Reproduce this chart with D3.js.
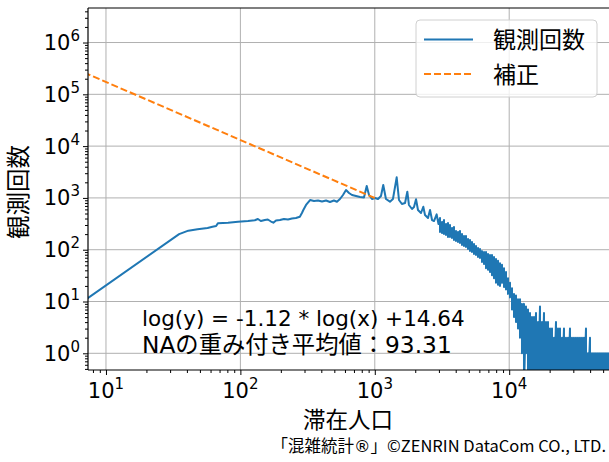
<!DOCTYPE html>
<html>
<head>
<meta charset="utf-8">
<script src="https://cdn.jsdelivr.net/npm/d3@7"></script>
<style>
  body { margin: 0; background: #fff; }
  text { fill: #000; }
</style>
</head>
<body>
<svg id="chart" width="609" height="462"></svg>
<script>
// observed counts, smooth part (population -> count)
const headPop = [5, 35, 41, 48, 57, 62, 66, 68, 81, 96, 114, 128, 135, 142, 152, 160, 169, 176, 184, 197,
  211, 226, 242, 259, 277, 287, 294, 308, 330, 353, 378, 405, 434, 464, 497, 523, 551, 580, 611, 643,
  677, 725, 776, 831, 871, 906, 953, 1003, 1057, 1112, 1156, 1211, 1297, 1365, 1455, 1514, 1592, 1679, 1746, 1795,
  1892, 1958, 2027, 2096, 2207, 2296, 2364, 2489, 2576, 2667, 2757, 2886, 2977];
const headCount = [5.8, 200, 233, 248, 262, 278, 287, 323, 332, 347, 358, 370, 392, 358, 374, 383, 350, 332, 366, 374,
  392, 383, 400, 409, 433, 511, 584, 730, 911, 871, 891, 853, 891, 834, 891, 845, 953, 1138, 1422, 1244,
  1138, 1089, 1041, 1018, 1698, 1138, 953, 995, 953, 1089, 1775, 953, 845, 953, 2500, 911, 762, 797, 1318, 730,
  611, 667, 940, 584, 511, 676, 468, 409, 584, 374, 358, 482, 313];

// noisy tail: at each population the count swings between a high and a low value
const tailPop = [3056, 3162, 3272, 3386, 3504, 3626, 3752, 3883, 4018, 4159, 4304, 4454, 4609, 4770, 4937, 5108, 5286,
  5471, 5662, 5860, 6064, 6275, 6494, 6721, 6956, 7197, 7448, 7708, 7977, 8256, 8542, 8840, 9149, 9468, 9797,
  10139, 10491, 10857, 11236, 11627, 12033, 12452, 12886, 13335, 13801, 14283, 14779, 15295, 15829, 16381,
  16953, 17538, 18151, 18785, 19441, 20120, 20822, 21544, 22295, 23073, 23878, 24712, 25565, 26457, 27380,
  28336, 29325, 30343, 31403, 32500, 33634, 34808, 36017, 37275, 38576, 39922, 41316, 42756, 44230, 45777,
  47375, 49028, 50739, 52505, 54339];
const tailHigh = [409, 343, 374, 313, 327, 300, 262, 274, 230, 220,
  230, 201, 184, 184, 161, 154, 141, 129, 118, 108,
  103, 94, 90, 90, 83, 79, 79, 72, 66, 61,
  55, 51, 44, 37, 28, 23, 18, 14, 13, 11,
  11, 9, 9, 8, 7, 6, 5, 5, 6, 4,
  8, 4, 6, 4, 4, 3, 3, 2, 4, 3,
  3, 2, 3, 2, 2, 3, 2, 2, 2, 2,
  2, 2, 2, 3, 1, 2, 1, 1, 1, 1,
  1, 1, 1, 1, 1];
const tailLow = [220, 210, 201, 192, 176, 176, 168, 154, 147, 141,
  135, 123, 118, 113, 103, 94, 90, 83, 79, 72,
  69, 58, 53, 44, 41, 37, 32, 28, 23, 21,
  20, 23, 19, 17, 14, 12, 7, 5, 4, 3,
  2, 1, 0, 1, 0, 0, 0, 0, 0, 0,
  0, 0, 0, 0, 0, 0, 0, 0, 0, 0,
  0, 0, 0, 0, 0, 0, 0, 0, 0, 0,
  0, 0, 0, 0, 0, 0, 0, 0, 0, 0,
  0, 0, 0, 0, 0];

// fitted line: ln(y) = -1.12 * ln(x) + 14.64
const fitSlope = -1.12;
const fitIntercept = 14.64;
const fitPop = [5, 1000];

const xMajor = [10, 100, 1000, 10000];
const yMajor = [1, 10, 100, 1000, 10000, 100000, 1000000];

const svg = d3.select('#chart');
const L = 88, T = 8, R = 612, B = 370;

const x = d3.scaleLog().domain([7.35, 58200]).range([L, R]);
const y = d3.scaleLog().domain([0.476, 4.64e6]).range([B, T]);

const minorTicks = (lo, hi) => {
  const out = [];
  for (let e = -1; e <= 6; e++) {
    for (let k = 2; k <= 9; k++) {
      const v = k * Math.pow(10, e);
      if (v > lo && v < hi) out.push(v);
    }
  }
  return out;
};

svg.append('defs').append('clipPath').attr('id', 'plot-clip')
  .append('rect').attr('x', L).attr('y', T).attr('width', R - L).attr('height', B - T);

// grid
const grid = svg.append('g').attr('stroke', '#b0b0b0').attr('stroke-width', 1);
grid.selectAll('.gx').data(xMajor).join('line')
  .attr('x1', d => x(d)).attr('x2', d => x(d)).attr('y1', T).attr('y2', B);
grid.selectAll('.gy').data(yMajor).join('line')
  .attr('x1', L).attr('x2', R).attr('y1', d => y(d)).attr('y2', d => y(d));

// series
const points = headPop.map((p, i) => [p, headCount[i]]);
tailPop.forEach((p, i) => {
  points.push([p, tailHigh[i]]);
  points.push([p, tailLow[i]]);
});
const yv = v => v > 0 ? y(v) : B + 20;

const plot = svg.append('g').attr('clip-path', 'url(#plot-clip)');
plot.append('path')
  .datum(points)
  .attr('fill', 'none')
  .attr('stroke', '#1f77b4')
  .attr('stroke-width', 2)
  .attr('stroke-linejoin', 'round')
  .attr('d', d3.line().x(d => x(d[0])).y(d => yv(d[1])));

const fitPts = fitPop.map(p => [p, Math.exp(fitIntercept + fitSlope * Math.log(p))]);
plot.append('path')
  .datum(fitPts)
  .attr('fill', 'none')
  .attr('stroke', '#ff7f0e')
  .attr('stroke-width', 2)
  .attr('stroke-dasharray', '7,3')
  .attr('d', d3.line().x(d => x(d[0])).y(d => y(d[1])));

// axes
svg.append('g').attr('transform', `translate(0,${B})`)
  .call(d3.axisBottom(x).tickValues(xMajor).tickSize(5).tickSizeOuter(0).tickFormat(''))
  .call(g => g.select('.domain').remove());
svg.append('g').attr('transform', `translate(0,${B})`)
  .call(d3.axisBottom(x).tickValues(minorTicks(7.35, 58200)).tickSize(3).tickSizeOuter(0).tickFormat(''))
  .call(g => g.select('.domain').remove());
svg.append('g').attr('transform', `translate(${L},0)`)
  .call(d3.axisLeft(y).tickValues(yMajor).tickSize(5).tickSizeOuter(0).tickFormat(''))
  .call(g => g.select('.domain').remove());
svg.append('g').attr('transform', `translate(${L},0)`)
  .call(d3.axisLeft(y).tickValues(minorTicks(0.476, 4.64e6)).tickSize(3).tickSizeOuter(0).tickFormat(''))
  .call(g => g.select('.domain').remove());

// spines
const spine = svg.append('g').attr('stroke', '#000').attr('stroke-width', 1.2);
spine.append('line').attr('x1', L).attr('x2', L).attr('y1', T).attr('y2', B);
spine.append('line').attr('x1', L).attr('x2', R).attr('y1', B).attr('y2', B);
spine.append('line').attr('x1', L).attr('x2', R).attr('y1', T).attr('y2', T);

// tick labels
const tickFont = 'DejaVu Sans, sans-serif';
const addPow = (sel, d) => {
  const e = Math.round(Math.log10(d));
  sel.append('tspan').text('10');
  sel.append('tspan').attr('font-size', 15).attr('dy', -9).text(e);
};
svg.append('g').selectAll('text').data(xMajor).join('text')
  .attr('x', d => x(d)).attr('y', 398)
  .attr('text-anchor', 'middle')
  .attr('font-family', tickFont).attr('font-size', 21)
  .each(function (d) { addPow(d3.select(this), d); });
svg.append('g').selectAll('text').data(yMajor).join('text')
  .attr('x', 80).attr('y', d => y(d) + 7.5)
  .attr('text-anchor', 'end')
  .attr('font-family', tickFont).attr('font-size', 21)
  .each(function (d) { addPow(d3.select(this), d); });

const jpFont = '"Noto Sans CJK JP", sans-serif';
const mixFont = '"DejaVu Sans", "Noto Sans CJK JP", sans-serif';

// axis labels
svg.append('text')
  .attr('x', (L + R) / 2 - 2).attr('y', 428)
  .attr('text-anchor', 'middle')
  .attr('font-family', jpFont).attr('font-size', 22.5)
  .text('滞在人口');
svg.append('text')
  .attr('transform', `translate(27,${(T + B) / 2 + 3}) rotate(-90)`)
  .attr('text-anchor', 'middle')
  .attr('font-family', jpFont).attr('font-size', 23.5)
  .text('観測回数');

// annotation
svg.append('text')
  .attr('x', 142).attr('y', 325.5)
  .attr('font-family', mixFont).attr('font-size', 21.5)
  .text('log(y) = -1.12 * log(x) +14.64');
svg.append('text')
  .attr('x', 142).attr('y', 353)
  .attr('font-family', mixFont).attr('font-size', 23.3)
  .text('NAの重み付き平均値：93.31');

// legend
const lg = svg.append('g');
lg.append('rect')
  .attr('x', 416).attr('y', 20).attr('width', 181).attr('height', 77).attr('rx', 4)
  .attr('fill', '#fff').attr('fill-opacity', 0.8)
  .attr('stroke', '#d0d0d0').attr('stroke-width', 1);
lg.append('line').attr('x1', 424).attr('x2', 473).attr('y1', 39.5).attr('y2', 39.5)
  .attr('stroke', '#1f77b4').attr('stroke-width', 2);
lg.append('line').attr('x1', 424).attr('x2', 473).attr('y1', 74).attr('y2', 74)
  .attr('stroke', '#ff7f0e').attr('stroke-width', 2).attr('stroke-dasharray', '7,3');
lg.append('text').attr('x', 493).attr('y', 48)
  .attr('font-family', jpFont).attr('font-size', 23).text('観測回数');
lg.append('text').attr('x', 493).attr('y', 83)
  .attr('font-family', jpFont).attr('font-size', 23).text('補正');

// credit
const credit = svg.append('text')
  .attr('x', 606).attr('y', 452)
  .attr('text-anchor', 'end')
  .attr('font-family', jpFont).attr('font-size', 16.5);
credit.append('tspan').text('「混雑統計');
credit.append('tspan').attr('font-family', 'DejaVu Sans, sans-serif').text('®');
credit.append('tspan').text('」©ZENRIN DataCom CO., LTD.');
</script>
</body>
</html>
